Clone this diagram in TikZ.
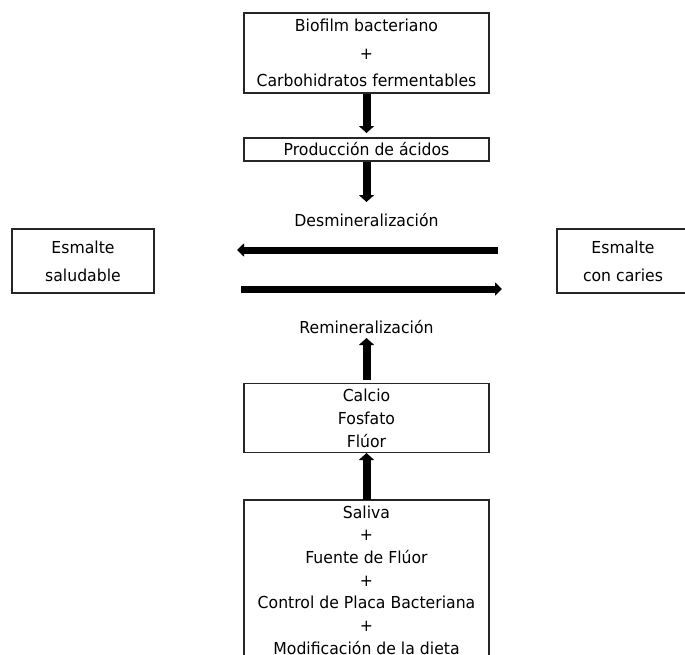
\documentclass[tikz,border=0pt]{standalone}
\usepackage{fontspec}
\setmainfont{DejaVu Sans}[FakeStretch=0.95]
\usetikzlibrary{arrows.meta}
\tikzset{
  box/.style={draw=black!85, line width=1.3pt, inner sep=0pt, align=center},
  lbl/.style={inner sep=0pt, align=center},
  bigarrow/.style={line width=8pt, -{Triangle[length=7pt,width=15pt]}},
  harrow/.style={line width=7pt, -{Triangle[length=7pt,width=13pt]}},
}
\begin{document}
\begin{tikzpicture}[x=1pt,y=-1pt]
\useasboundingbox (0,0) rectangle (685,654);
\clip (0,0) rectangle (685,654);
\node[box, minimum width=245pt, minimum height=80pt, font=\fontsize{16.5}{27.5}\selectfont] (top) at (366.5,53) {Biofilm bacteriano\\+\\Carbohidratos fermentables};
\node[box, minimum width=245pt, minimum height=23pt, font=\fontsize{16.5}{18}\selectfont] (prod) at (366.5,149.5) {Producción de ácidos};
\node[lbl, font=\fontsize{16.5}{18}\selectfont] (desmin) at (366.5,220) {Desmineralización};
\node[box, minimum width=142pt, minimum height=64pt, font=\fontsize{16.5}{28}\selectfont] (sano) at (83,261) {Esmalte\\saludable};
\node[box, minimum width=132pt, minimum height=64pt, font=\fontsize{16.5}{28}\selectfont] (caries) at (623,261) {Esmalte\\con caries};
\node[lbl, font=\fontsize{16.5}{18}\selectfont] (remin) at (366.5,327) {Remineralización};
\node[box, minimum width=245pt, minimum height=69pt, font=\fontsize{16.5}{23}\selectfont] (calcio) at (366.5,418) {Calcio\\Fosfato\\Flúor};
\node[box, minimum width=245pt, minimum height=160pt, font=\fontsize{16.5}{22.7}\selectfont] (saliva) at (366.5,580) {Saliva\\+\\Fuente de Flúor\\+\\Control de Placa Bacteriana\\+\\Modificación de la dieta};
\coordinate (lstart) at (498,250);
\coordinate (lend) at (237,250);
\coordinate (rstart) at (241,289);
\coordinate (rend) at (502,289);
\coordinate (a1end) at (366.5,133);
\coordinate (a2end) at (366.5,202);
\coordinate (a3start) at (366.5,380);
\coordinate (a3end) at (366.5,338);
\coordinate (a4start) at (366.5,500);
\coordinate (a4end) at (366.5,453);
\draw[bigarrow] (top.south) -- (a1end);
\draw[bigarrow] (prod.south) -- (a2end);
\draw[harrow] (lstart) -- (lend);
\draw[harrow] (rstart) -- (rend);
\draw[bigarrow] (a3start) -- (a3end);
\draw[bigarrow] (a4start) -- (a4end);
\end{tikzpicture}
\end{document}
